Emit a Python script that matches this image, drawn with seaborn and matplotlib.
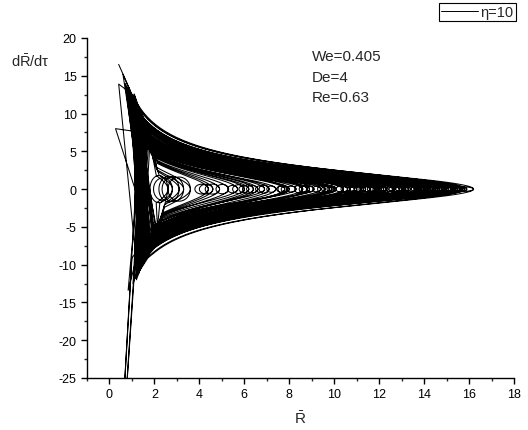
import numpy as np
import pandas as pd
import matplotlib
matplotlib.use("Agg")
import matplotlib.pyplot as plt
import seaborn as sns
from matplotlib.ticker import MultipleLocator
from matplotlib.lines import Line2D

# ---- data (cycle by cycle of the phase trajectory) ----
cyc_rmax = [16.2, 14.8, 15.6, 13.9, 12.7, 15.1, 11.8, 14.3, 10.6, 15.8,
            13.2, 9.4, 14.6, 12.2, 8.3, 15.3, 13.6, 7.4, 14.1, 11.2,
            6.6, 15.0, 12.9, 5.7, 13.4, 10.1, 4.9, 14.9, 12.4, 4.4,
            11.6, 13.8, 3.6, 9.8, 15.4, 3.1, 12.0, 8.8, 14.4, 2.8,
            10.9, 13.1, 7.8, 15.9, 3.3, 11.4, 6.9, 14.0, 9.1, 12.6,
            2.6, 15.2, 10.4, 5.3, 13.0, 8.0, 14.7, 4.6, 11.0, 6.2,
            9.9, 12.3, 7.1, 14.5, 10.7, 8.6, 13.7, 11.3, 6.4, 15.5,
            9.6, 12.1, 7.9, 14.2, 10.0, 11.9, 8.9, 13.3, 6.0, 15.7]
cyc_aup = [3.2, 2.9, 3.1, 2.7, 2.8, 3.0, 2.6, 2.9, 2.7, 3.3,
           2.8, 2.6, 3.0, 2.7, 2.9, 3.1, 2.6, 2.8, 2.9, 2.7,
           3.0, 2.9, 2.6, 3.1, 2.8, 2.7, 3.2, 3.0, 2.8, 3.3,
           2.7, 2.9, 3.4, 2.8, 3.1, 3.5, 2.7, 2.9, 3.0, 3.6,
           2.8, 2.6, 2.9, 3.2, 3.4, 2.7, 3.0, 2.8, 2.9, 2.7,
           3.6, 3.0, 2.8, 3.1, 2.7, 2.9, 3.1, 3.3, 2.6, 3.0,
           2.8, 2.7, 3.0, 2.9, 2.6, 2.8, 3.0, 2.7, 3.1, 2.9,
           2.7, 2.8, 3.0, 2.6, 2.9, 2.8, 2.7, 3.0, 3.1, 2.8]
cyc_adn = [3.1, 3.0, 2.8, 3.2, 2.7, 2.9, 3.0, 2.6, 2.9, 3.2,
           2.7, 2.9, 2.8, 3.1, 2.6, 3.0, 2.9, 3.2, 2.7, 2.8,
           3.1, 2.8, 3.0, 2.9, 2.6, 3.0, 3.3, 2.7, 3.1, 3.4,
           2.9, 2.6, 3.5, 3.0, 2.8, 3.6, 2.9, 3.1, 2.7, 3.7,
           3.0, 2.9, 3.2, 2.8, 3.5, 3.1, 2.8, 3.0, 2.7, 2.9,
           3.7, 2.8, 3.0, 3.2, 2.9, 3.1, 2.8, 3.4, 3.0, 3.2,
           2.9, 2.8, 3.1, 2.7, 2.9, 3.0, 2.8, 2.9, 3.2, 2.7,
           3.0, 2.6, 2.9, 2.8, 3.0, 2.7, 3.1, 2.9, 3.0, 2.6]
cyc_rs = [0.41, 1.10, 0.85, 1.30, 1.20, 0.95, 1.45, 1.05, 1.35, 0.41,
          1.15, 1.50, 0.90, 1.25, 1.40, 0.75, 1.10, 1.55, 1.00, 1.30,
          1.45, 0.80, 1.20, 1.60, 1.05, 1.35, 1.50, 0.27, 1.15, 1.55,
          1.25, 0.95, 1.65, 1.40, 0.70, 1.70, 1.20, 1.45, 1.00, 1.75,
          1.30, 1.10, 1.50, 0.60, 1.65, 1.25, 1.55, 0.90, 1.40, 1.15,
          1.80, 0.85, 1.35, 1.60, 1.05, 1.45, 0.95, 1.70, 1.25, 1.50,
          1.20, 1.40, 1.05, 1.30, 1.55, 1.15, 0.95, 1.35, 1.60, 1.10,
          1.45, 1.25, 1.50, 1.00, 1.30, 1.20, 1.65, 1.05, 1.40, 0.90]
cyc_vs = [16.5, 12.5, 13.5, 10.5, 11.0, 12.8, 9.5, 12.0, 10.0, 13.9,
          11.5, 9.0, 13.0, 10.8, 9.8, 13.6, 11.8, 8.5, 12.2, 10.2,
          9.2, 13.2, 10.6, 8.0, 11.6, 9.6, 8.6, 8.0, 11.0, 7.8,
          10.4, 12.6, 7.2, 9.4, 14.0, 6.8, 10.8, 9.0, 12.4, 6.5,
          10.0, 11.4, 8.8, 15.2, 7.0, 10.6, 8.2, 13.0, 9.6, 11.2,
          6.2, 13.4, 9.8, 8.0, 11.8, 9.0, 12.8, 7.4, 10.4, 8.6,
          10.6, 9.8, 11.6, 11.0, 8.8, 10.2, 12.2, 9.4, 8.4, 12.6,
          9.2, 10.8, 8.6, 12.0, 10.0, 11.2, 8.2, 11.8, 9.0, 13.0]
cyc_re = [1.30, 1.45, 1.20, 1.55, 1.35, 1.05, 1.60, 1.40, 1.25, 1.50,
          0.83, 1.65, 1.30, 1.45, 1.70, 1.15, 1.35, 1.75, 1.40, 1.55,
          1.80, 1.25, 1.50, 1.85, 0.55, 1.60, 1.90, 1.35, 1.45, 1.95,
          1.40, 1.30, 2.00, 1.65, 1.20, 2.05, 1.50, 1.70, 1.35, 2.10,
          1.55, 1.45, 1.75, 1.30, 2.00, 0.68, 1.85, 1.40, 1.60, 1.50,
          2.15, 1.25, 1.65, 1.90, 1.45, 1.75, 1.35, 1.95, 1.55, 1.80,
          1.50, 1.35, 1.70, 1.25, 1.60, 1.45, 1.30, 1.75, 1.55, 1.20,
          1.65, 1.40, 1.80, 1.35, 1.50, 1.60, 1.45, 1.70, 1.85, 1.30]
cyc_ve = [-11.0, -10.2, -12.0, -9.4, -10.8, -12.5, -8.8, -10.0, -11.4, -9.6,
          -13.4, -8.6, -10.6, -9.8, -8.2, -11.8, -10.4, -7.8, -9.9, -9.0,
          -7.6, -11.2, -9.2, -7.2, -32.0, -8.4, -7.0, -10.8, -9.6, -6.8,
          -9.4, -10.6, -6.6, -8.2, -11.6, -6.4, -9.0, -8.0, -10.2, -6.2,
          -8.8, -9.6, -7.4, -11.0, -6.6, -30.0, -7.2, -10.4, -8.4, -9.2,
          -6.0, -10.8, -8.6, -7.0, -9.8, -7.8, -10.6, -6.8, -8.8, -7.6,
          -9.6, -10.4, -8.4, -11.0, -9.0, -9.8, -10.8, -8.2, -8.8, -11.4,
          -8.6, -10.0, -7.8, -10.6, -9.2, -9.4, -9.0, -8.6, -7.6, -11.2]
loop_w = [0.45, 0.15, 0.12, 0.14, 0.13, 0.00, 0.16, 0.12, 0.15, 0.20,
          0.00, 0.18, 0.12, 0.14, 0.20, 0.15, 0.00, 0.20, 0.13, 0.15,
          0.25, 0.00, 0.14, 0.22, 0.13, 0.17, 0.32, 0.12, 0.00, 0.30,
          0.15, 0.13, 0.50, 0.18, 0.00, 0.45, 0.14, 0.18, 0.12, 0.42,
          0.16, 0.00, 0.18, 0.30, 0.48, 0.15, 0.20, 0.13, 0.17, 0.14,
          0.40, 0.12, 0.16, 0.28, 0.13, 0.18, 0.12, 0.30, 0.15, 0.22,
          0.18, 0.14, 0.22, 0.12, 0.16, 0.18, 0.13, 0.15, 0.24, 0.12,
          0.17, 0.14, 0.20, 0.12, 0.16, 0.14, 0.18, 0.13, 0.26, 0.25]
loop_h = [0.30, 0.25, 0.22, 0.28, 0.30, 0.00, 0.32, 0.24, 0.35, 0.25,
          0.00, 0.38, 0.22, 0.30, 0.40, 0.22, 0.00, 0.42, 0.26, 0.34,
          0.48, 0.00, 0.30, 0.50, 0.28, 0.36, 0.66, 0.24, 0.00, 0.65,
          0.32, 0.26, 1.60, 0.38, 0.00, 1.70, 0.30, 0.40, 0.24, 1.50,
          0.34, 0.00, 0.40, 0.28, 1.65, 0.33, 0.44, 0.26, 0.38, 0.30,
          1.80, 0.22, 0.36, 0.62, 0.28, 0.40, 0.22, 0.64, 0.32, 0.46,
          0.50, 0.45, 0.55, 0.40, 0.48, 0.52, 0.42, 0.46, 0.56, 0.36,
          0.50, 0.44, 0.54, 0.40, 0.48, 0.44, 0.52, 0.42, 0.58, 0.30]

x_ticks = [0, 2, 4, 6, 8, 10, 12, 14, 16, 18]
y_ticks = [-25, -20, -15, -10, -5, 0, 5, 10, 15, 20]
params = ["We=0.405", "De=4", "Re=0.63"]
legend_label = "η=10"

# ---- assemble the trajectory from the read cycle parameters ----
R_pts, V_pts = [], []
for rmax, au, ad, rs, vs, re_, ve, lw_, lh_ in zip(
        cyc_rmax, cyc_aup, cyc_adn, cyc_rs, cyc_vs, cyc_re, cyc_ve, loop_w, loop_h):
    R_pts.append(rs); V_pts.append(vs)
    rc = min(max(rs + 0.45, rmax / (1 + (0.9 * vs / au) ** 2)), rmax * 0.8)
    s = np.linspace(0, 1, 60)
    Rb = rc + (rmax - rc) * (1 - np.cos(np.pi * s)) / 2
    Vb = au * np.sqrt(np.clip(rmax / Rb - 1, 0, None))
    R_pts += list(Rb); V_pts += list(Vb)
    if lw_ > 0:
        th = np.linspace(0, 2 * np.pi, 40)
        R_pts += list(rmax - lw_ + lw_ * np.cos(th))
        V_pts += list(-lh_ * np.sin(th))
    rc2 = min(max(re_ + 0.45, rmax / (1 + (0.9 * abs(ve) / ad) ** 2)), rmax * 0.8)
    Rb2 = rmax - (rmax - rc2) * (1 - np.cos(np.pi * s)) / 2
    Vb2 = -ad * np.sqrt(np.clip(rmax / Rb2 - 1, 0, None))
    R_pts += list(Rb2); V_pts += list(Vb2)
    R_pts.append(re_); V_pts.append(ve)

df = pd.DataFrame({"R": R_pts, "V": V_pts})

# ---- plot ----
sns.set_style("ticks")
plt.rcParams["font.family"] = ["Liberation Sans", "DejaVu Sans"]
plt.rcParams["axes.unicode_minus"] = False
plt.rcParams["mathtext.fontset"] = "custom"
plt.rcParams["mathtext.rm"] = "Liberation Sans"
plt.rcParams["mathtext.it"] = "Liberation Sans"

fig = plt.figure(figsize=(5.28, 4.31), dpi=100)
ax = fig.add_axes([87 / 528, 1 - 379 / 431, (514 - 87) / 528, (379 - 39) / 431])

sns.lineplot(data=df, x="R", y="V", sort=False, estimator=None, color="black",
             linewidth=0.75, ax=ax, legend=False)

ax.set_xlim(-1, 18)
ax.set_ylim(-25, 20)
ax.set_xticks(x_ticks)
ax.set_yticks(y_ticks)
ax.xaxis.set_minor_locator(MultipleLocator(1))
ax.yaxis.set_minor_locator(MultipleLocator(2.5))
ax.tick_params(which="major", direction="out", length=4, width=1, labelsize=9, colors="black")
ax.tick_params(which="minor", direction="out", length=2.2, width=1)
for side in ["top", "right"]:
    ax.spines[side].set_visible(False)
for side in ["left", "bottom"]:
    ax.spines[side].set_linewidth(1)
    ax.spines[side].set_color("black")

ax.set_xlabel(r"$\bar{\mathrm{R}}$", fontsize=11, labelpad=6)
ax.set_ylabel("")
fig.text(30 / 528, 1 - 62 / 431, r"d$\bar{\mathrm{R}}$/d$\mathrm{\tau}$", fontsize=10.5,
         ha="center", va="center")

for txt, yv in zip(params, [17.6, 14.85, 12.2]):
    ax.text(9.02, yv, txt, fontsize=11, ha="left", va="center")

h = Line2D([], [], color="black", linewidth=0.7)
leg = fig.legend([h], [legend_label], loc="upper right",
                 bbox_to_anchor=(516 / 528, 1 - 4 / 431), fancybox=False,
                 edgecolor="black", framealpha=1, fontsize=10.5, handlelength=2.5,
                 borderpad=0.15, handletextpad=0.2, borderaxespad=0)
leg.get_frame().set_linewidth(0.8)

fig.savefig("out.png", dpi=100)
